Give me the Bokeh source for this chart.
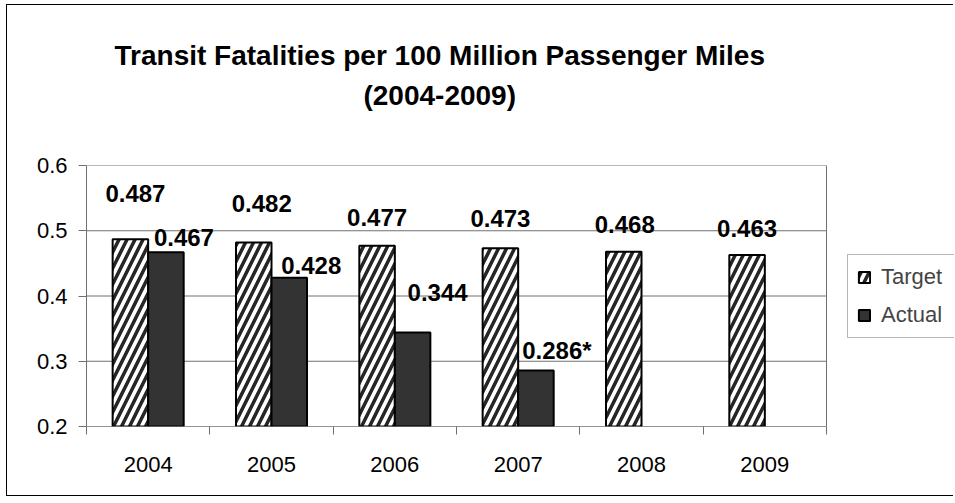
from bokeh.plotting import figure
from bokeh.models import (FixedTicker, Legend, LegendItem, ColumnDataSource, Range1d)
from bokeh.core.properties import value
from bokeh.embed import file_html
from bokeh.resources import INLINE

# ---- data ----
years = ["2004", "2005", "2006", "2007", "2008", "2009"]
target = [0.487, 0.482, 0.477, 0.473, 0.468, 0.463]
actual = [0.467, 0.428, 0.344, 0.286]
target_labels = ["0.487", "0.482", "0.477", "0.473", "0.468", "0.463"]
actual_labels = ["0.467", "0.428", "0.344", "0.286*"]
y_ticks = [0.2, 0.3, 0.4, 0.5, 0.6]
title_line1 = "Transit Fatalities per 100 Million Passenger Miles"
title_line2 = "(2004-2009)"

# ---- label placement (pixel offsets, layout only) ----
t_dx = [5, 8, 0, 0, 1, 0]
t_dy = [46, 39, 28, 30, 27, 26]
a_dx = [18, 22, 25, 21]
a_dy = [15, 12, 40, 20]

FONT = "Liberation Sans"
GRID = "#707070"
half = 0.144
n = len(years)

W, H = 947, 492
MB_L, MB_T, MB_B = 79, 160, 71
PLOT_PX = 740                      # pixel width of the category area
frame_px = W - MB_L
x_end = n * frame_px / PLOT_PX     # frame extends right to host the legend

p = figure(width=W, height=H, output_backend="svg", toolbar_location=None,
           x_range=Range1d(0, x_end), y_range=Range1d(0.2, 0.6),
           min_border_left=MB_L, min_border_right=0, min_border_top=MB_T,
           min_border_bottom=MB_B)
p.styles = {"border-top": "1px solid #000000", "border-left": "1px solid #000000",
            "border-bottom": "1px solid #000000",
            "margin-left": "6px", "margin-top": "4px"}
p.background_fill_color = "white"
p.border_fill_color = "white"
p.outline_line_color = None

# two-line title; second line padded so that it sits centred under the first,
# plus a blank spacer line to lift the block away from the plot area
pad = "\u00a0" * 32
p.title.text = title_line1 + "\n" + pad + title_line2 + "\n\u00a0"
p.title.align = "left"
p.title.offset = 28
p.title.standoff = 30
p.title.text_font = FONT
p.title.text_font_size = "28px"
p.title.text_font_style = "bold"
p.title.text_color = "black"
p.title.text_line_height = 1.29

# gridlines and plot-area border (limited to the category area)
p.xgrid.grid_line_color = None
p.ygrid.grid_line_color = None
p.segment(x0=[0] * len(y_ticks), x1=[n] * len(y_ticks), y0=y_ticks, y1=y_ticks,
          line_color=GRID, line_width=1)
p.segment(x0=[n], x1=[n], y0=[y_ticks[0]], y1=[y_ticks[-1]], line_color=GRID, line_width=1)

# bars
tx = [i + 0.5 - half for i in range(n)]
ax_ = [i + 0.5 + half for i in range(len(actual))]
src_t = ColumnDataSource(dict(x=tx, top=target, lab=target_labels, dx=t_dx, dy=[-d for d in t_dy]))
src_a = ColumnDataSource(dict(x=ax_, top=actual, lab=actual_labels, dx=a_dx, dy=[-d for d in a_dy]))

rt = p.vbar(x="x", top="top", bottom=0.2, width=2 * half, source=src_t,
            fill_color="white", line_color="black", line_width=2,
            hatch_pattern="/", hatch_color="#262626", hatch_weight=3.5, hatch_scale=16)
ra = p.vbar(x="x", top="top", bottom=0.2, width=2 * half, source=src_a,
            fill_color="#333333", line_color="black", line_width=2)

for src in (src_t, src_a):
    p.text(x="x", y="top", text="lab", x_offset="dx", y_offset="dy", source=src,
           text_font=value(FONT), text_font_size="24px", text_font_style="bold",
           text_align="center", text_baseline="middle", text_color="black")

# y axis
p.yaxis.ticker = FixedTicker(ticks=y_ticks)
p.yaxis.major_label_overrides = {t: f"{t:.1f}" for t in y_ticks}
p.yaxis.axis_line_color = GRID
p.yaxis.major_tick_line_color = GRID
p.yaxis.major_tick_out = 8
p.yaxis.major_tick_in = 0
p.yaxis.minor_tick_line_color = None
p.yaxis.major_label_text_font = FONT
p.yaxis.major_label_text_font_size = "22px"
p.yaxis.major_label_text_color = "black"
p.yaxis.major_label_standoff = 11

# x axis (line drawn only under the categories)
centers = [i + 0.5 for i in range(n)]
p.xaxis.ticker = FixedTicker(ticks=centers, minor_ticks=list(range(n + 1)))
p.xaxis.major_label_overrides = {c: y for c, y in zip(centers, years)}
p.xaxis.axis_line_color = None
p.xaxis.major_tick_line_color = None
p.xaxis.major_tick_out = 0
p.xaxis.major_tick_in = 0
p.xaxis.minor_tick_line_color = GRID
p.xaxis.minor_tick_out = 8
p.xaxis.minor_tick_in = 0
p.xaxis.major_label_text_font = FONT
p.xaxis.major_label_text_font_size = "22px"
p.xaxis.major_label_text_color = "black"
p.xaxis.major_label_standoff = 22
p.segment(x0=[0], x1=[n], y0=[y_ticks[0]], y1=[y_ticks[0]], line_color=GRID, line_width=1)

# legend inside the extended frame, to the right of the category area
legend = Legend(items=[LegendItem(label="Target", renderers=[rt]),
                       LegendItem(label="Actual", renderers=[ra])],
                location=(PLOT_PX + 21, 88))
legend.label_text_font = FONT
legend.label_text_font_size = "22px"
legend.glyph_width = 14
legend.glyph_height = 14
legend.label_standoff = 10
legend.label_width = 90
legend.padding = 9
legend.spacing = 12
legend.margin = 0
legend.border_line_color = GRID
legend.border_line_width = 1
legend.background_fill_alpha = 1
p.add_layout(legend)

open("out.html", "w").write(file_html(p, INLINE))
